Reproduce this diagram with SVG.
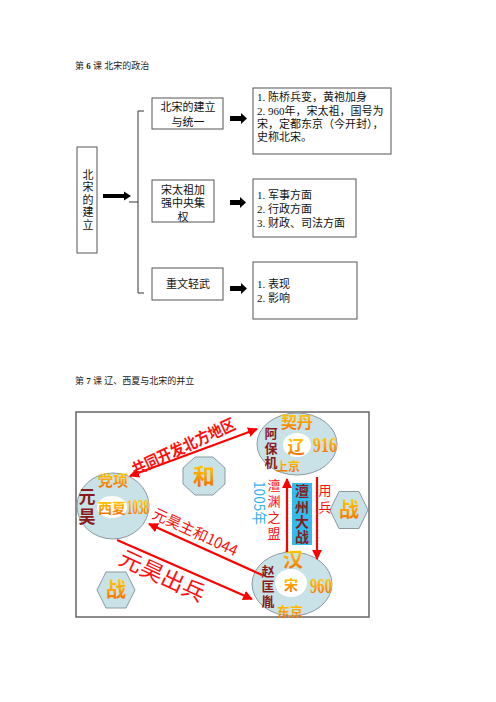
<svg xmlns="http://www.w3.org/2000/svg" width="496" height="702" viewBox="0 0 496 702">
<style>
.t{font-family:"Liberation Serif","Noto Sans CJK SC",serif;fill:#111;font-size:11px}
.tt{font-family:"Liberation Serif","Noto Sans CJK SC",serif;fill:#222;font-size:9px}
.bx{fill:#fff;stroke:#555;stroke-width:1}
.blk{fill:#000}
.cn{fill:#c9e2e7;stroke:#8a9a9e;stroke-width:1}
.hole{fill:#fff;stroke:none}
.og{font-family:"Noto Sans CJK SC",sans-serif;fill:url(#og);font-weight:bold}
.num{font-family:"Liberation Serif",serif;fill:url(#og);font-weight:bold}
.dr{font-family:"Noto Sans CJK SC",sans-serif;fill:#8b1a1a;font-weight:bold}
.rd{font-family:"Noto Sans CJK SC",sans-serif;fill:#ff1010}
.v{writing-mode:vertical-rl}
.ra{stroke:#ff0000;stroke-width:2.2;fill:none}
</style>
<defs>
<linearGradient id="og" x1="0" y1="0" x2="0" y2="1">
<stop offset="0" stop-color="#ffe000"/>
<stop offset="0.55" stop-color="#ffa000"/>
<stop offset="1" stop-color="#e86000"/>
</linearGradient>
<marker id="ah" viewBox="0 0 10 10" refX="9" refY="5" markerWidth="4.5" markerHeight="4.5" orient="auto-start-reverse" markerUnits="strokeWidth">
<path d="M0,0 L10,5 L0,10 Z" fill="#ff0000"/>
</marker>
</defs>
<rect width="496" height="702" fill="#fff"/>

<text class="tt" x="75" y="69">第 <tspan font-weight="bold">6</tspan> 课  北宋的政治</text>

<g id="connectors-top">
<path d="M103,194 L124,194 L124,191.5 L131,196 L124,200.5 L124,198 L103,198 Z" class="blk"/>
<path d="M144,111 L138,111 L138,293 L144,293 M129,202 L138,202" fill="none" stroke="#333" stroke-width="1"/>
<path d="M230,116 L241,116 L241,113 L247,118.5 L241,124 L241,121 L230,121 Z" class="blk"/>
<path d="M230,200 L240,200 L240,197 L246,202.5 L240,208 L240,205 L230,205 Z" class="blk"/>
<path d="M230,286 L241,286 L241,283 L247,288.5 L241,294 L241,291 L230,291 Z" class="blk"/>
</g>

<g id="n-root">
<rect class="bx" x="77" y="147" width="20" height="106"/>
<text class="t v" font-size="12" x="87" y="169" letter-spacing="1.5">北宋的建立</text>
</g>
<g id="n-b1">
<rect class="bx" x="152" y="98" width="71" height="31"/>
<text class="t" text-anchor="middle" font-size="11.5"><tspan x="188" y="111">北宋的建立</tspan><tspan x="188" y="126">与统一</tspan></text>
</g>
<g id="n-r1">
<rect class="bx" x="253" y="88" width="138" height="66"/>
<text class="t" font-size="11.5"><tspan x="257" y="101">1. 陈桥兵变，黄袍加身</tspan><tspan x="257" y="115">2. 960年，宋太祖，国号为</tspan><tspan x="257" y="128">宋，定都东京（今开封），</tspan><tspan x="257" y="141">史称北宋。</tspan></text>
</g>
<g id="n-b2">
<rect class="bx" x="152" y="180" width="62" height="42"/>
<text class="t" text-anchor="middle" font-size="11.5"><tspan x="183" y="194">宋太祖加</tspan><tspan x="183" y="207">强中央集</tspan><tspan x="183" y="221">权</tspan></text>
</g>
<g id="n-r2">
<rect class="bx" x="253" y="179" width="103" height="58"/>
<text class="t" font-size="11.5"><tspan x="257" y="199">1. 军事方面</tspan><tspan x="257" y="213">2. 行政方面</tspan><tspan x="257" y="227">3. 财政、司法方面</tspan></text>
</g>
<g id="n-b3">
<rect class="bx" x="152" y="268" width="71" height="32"/>
<text class="t" text-anchor="middle" font-size="11.5" x="188" y="288">重文轻武</text>
</g>
<g id="n-r3">
<rect class="bx" x="253" y="262" width="104" height="57"/>
<text class="t" font-size="11.5"><tspan x="257" y="288">1. 表现</tspan><tspan x="257" y="302">2. 影响</tspan></text>
</g>

<text class="tt" x="75" y="384">第 <tspan font-weight="bold">7</tspan> 课  辽、西夏与北宋的并立</text>

<g id="picture">
<rect x="76" y="412" width="293" height="205" fill="#fff" stroke="#666" stroke-width="1.5"/>

<g id="n-liao">
<ellipse class="cn" cx="297" cy="444" rx="40" ry="31"/>
<ellipse class="hole" cx="297" cy="445" rx="14" ry="12"/>
<text class="og" x="297" y="428" font-size="16" text-anchor="middle">契丹</text>
<text class="dr v" font-size="13" x="271" y="427" letter-spacing="1.5">阿保机</text>
<text class="og" x="296" y="453" font-size="17" text-anchor="middle">辽</text>
<text class="num" x="313" y="452" font-size="22" textLength="24" lengthAdjust="spacingAndGlyphs">916</text>
<text class="og" x="288" y="471" font-size="12" text-anchor="middle" font-weight="normal">上京</text>
</g>

<g id="n-xixia">
<ellipse class="cn" cx="113" cy="506" rx="36" ry="33"/>
<ellipse class="hole" cx="112" cy="507" rx="15" ry="11"/>
<text class="og" x="113" y="486" font-size="15" text-anchor="middle">党项</text>
<text class="dr v" font-size="17" x="87" y="488.5" letter-spacing="3">元昊</text>
<text class="og" x="112" y="513" font-size="14" text-anchor="middle">西夏</text>
<text class="num" x="127" y="514" font-size="20" textLength="22" lengthAdjust="spacingAndGlyphs">1038</text>
</g>

<g id="n-song">
<ellipse class="cn" cx="292" cy="584" rx="40" ry="32"/>
<ellipse class="hole" cx="291" cy="583" rx="16" ry="14"/>
<text class="og" x="293" y="567" font-size="20" text-anchor="middle" font-weight="normal">汉</text>
<text class="dr v" font-size="13" x="268" y="564.5" letter-spacing="2">赵匡胤</text>
<text class="og" x="291" y="590" font-size="14" text-anchor="middle" font-weight="normal">宋</text>
<text class="num" x="310" y="593" font-size="22" textLength="22" lengthAdjust="spacingAndGlyphs">960</text>
<text class="og" x="290" y="616" font-size="13" text-anchor="middle" font-weight="normal">东京</text>
</g>

<g id="n-he">
<polygon class="cn" points="195,457 213,457 225,468 225,484 213,495 195,495 183,484 183,468"/>
<text class="og" x="204" y="484" font-size="22" text-anchor="middle">和</text>
</g>
<g id="n-zhan1">
<polygon class="cn" points="330,510 339,491.5 359,491.5 368,510 359,528.5 339,528.5"/>
<text class="og" x="349" y="517" font-size="20" text-anchor="middle">战</text>
</g>
<g id="n-zhan2">
<polygon class="cn" points="97,590 106,572 126,572 135,590 126,608 106,608"/>
<text class="og" x="116" y="597" font-size="20" text-anchor="middle">战</text>
</g>

<g id="n-chanzhou">
<rect x="292" y="483" width="20" height="62" fill="#33bbee"/>
<text class="dr v" font-size="14" font-weight="normal" x="302" y="484" letter-spacing="1.3">澶州大战</text>
</g>

<g id="connectors">
<line class="ra" x1="130" y1="476" x2="257" y2="429" marker-start="url(#ah)" marker-end="url(#ah)"/>
<line class="ra" x1="262" y1="575" x2="149" y2="524" marker-end="url(#ah)"/>
<line class="ra" x1="117" y1="540" x2="252" y2="599" marker-end="url(#ah)"/>
<line class="ra" x1="287" y1="552" x2="287" y2="479" marker-end="url(#ah)"/>
<line class="ra" x1="317" y1="477" x2="317" y2="559" marker-end="url(#ah)"/>
</g>

<g id="labels">
<text class="rd" font-weight="bold" font-size="16" text-anchor="middle" transform="translate(186,452) rotate(-25)" textLength="112" lengthAdjust="spacingAndGlyphs">共同开发北方地区</text>
<text class="rd" font-size="15" text-anchor="middle" transform="translate(193,537) rotate(25)" textLength="92" lengthAdjust="spacingAndGlyphs">元昊主和1044</text>
<text class="rd" font-size="22" text-anchor="middle" transform="translate(159,583) rotate(25)" textLength="92" lengthAdjust="spacingAndGlyphs">元昊出兵</text>
<text class="rd v" font-size="13" x="274" y="478.5" letter-spacing="3">澶渊之盟</text>
<text class="rd v" font-size="13" x="325" y="483.5" letter-spacing="4">用兵</text>
<text font-family="Noto Sans CJK SC, sans-serif" fill="#3ab0ee" font-size="15" text-anchor="middle" transform="translate(254,503) rotate(90)" textLength="44" lengthAdjust="spacingAndGlyphs">1005年</text>
</g>
</g>
</svg>
